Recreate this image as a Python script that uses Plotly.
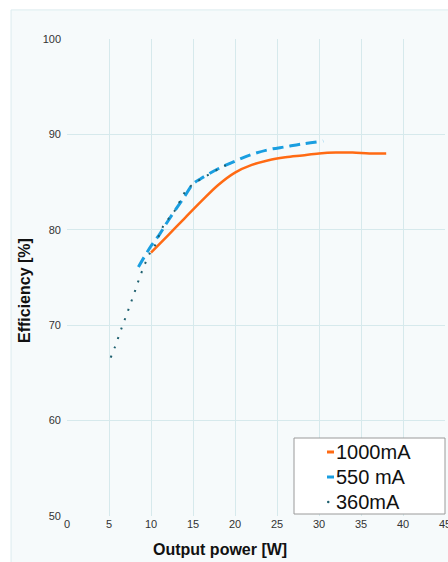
import plotly.graph_objects as go

# 1000 mA (solid orange)
x_1000 = [10, 12, 14, 16, 18, 20, 22, 24, 26, 28, 30, 32, 34, 36, 38]
y_1000 = [77.6, 79.4, 81.2, 83.0, 84.7, 86.0, 86.8, 87.3, 87.6, 87.8, 88.0, 88.1, 88.1, 88.0, 88.0]

# 550 mA (dashed blue)
x_550 = [8.5, 10, 11, 12, 14, 15, 16, 18, 20, 22, 24, 26, 28, 30.5]
y_550 = [76.1, 78.3, 79.5, 80.9, 83.5, 84.8, 85.4, 86.4, 87.2, 87.9, 88.4, 88.7, 89.0, 89.3]

# 360 mA (dotted dark teal)
x_360 = [5.2, 5.7, 6.5, 7.3, 8.1, 8.9, 9.9, 10.5, 11.4, 12.9, 14.0, 14.9, 16.5, 17.9, 19.4]
y_360 = [66.6, 67.7, 69.7, 71.6, 73.6, 75.6, 77.6, 78.4, 80.3, 82.1, 83.9, 84.7, 85.6, 86.3, 87.0]

series_names = ["1000mA", "550 mA", "360mA"]
series_colors = ["#ff6a13", "#1a9ee0", "#1d5f6e"]

x_ticks = [0, 5, 10, 15, 20, 25, 30, 35, 40, 45]
y_ticks = [50, 60, 70, 80, 90, 100]

FONT = "Liberation Sans, Arial, sans-serif"

# plot area in pixels (for paper-coordinate helpers)
L, R, T, B = 67, 445, 39, 516
def px(x):
    return (x - L) / (R - L)
def py(y):
    return (B - y) / (B - T)

fig = go.Figure()
fig.add_trace(go.Scatter(x=x_1000, y=y_1000, mode="lines", name=series_names[0],
                         line=dict(color=series_colors[0], width=2.5, shape="spline")))
fig.add_trace(go.Scatter(x=x_550, y=y_550, mode="lines", name=series_names[1],
                         line=dict(color=series_colors[1], width=3, dash="11px,6px", shape="spline")))
fig.add_trace(go.Scatter(x=x_360, y=y_360, mode="lines", name=series_names[2],
                         line=dict(color=series_colors[2], width=2, dash="2px,8px", shape="spline")))

shapes = [
    dict(type="rect", xref="paper", yref="paper", x0=-0.148, x1=1.02,
         y0=-0.11, y1=1.061, fillcolor="#f6fafb",
         line=dict(color="#dcecef", width=1), layer="below"),
    # legend box
    dict(type="rect", xref="paper", yref="paper", x0=px(294), x1=px(445),
         y0=py(514), y1=py(438), fillcolor="white",
         line=dict(color="#9a9a9a", width=1), layer="above"),
    # legend symbols
    dict(type="line", xref="paper", yref="paper", x0=px(327), x1=px(334),
         y0=py(452), y1=py(452), line=dict(color=series_colors[0], width=3)),
    dict(type="line", xref="paper", yref="paper", x0=px(327), x1=px(334),
         y0=py(477), y1=py(477), line=dict(color=series_colors[1], width=3)),
    dict(type="circle", xref="paper", yref="paper", x0=px(327), x1=px(329.5),
         y0=py(503.2), y1=py(500.8), fillcolor=series_colors[2],
         line=dict(color=series_colors[2], width=0)),
]

annotations = [
    dict(text="<b>Output power [W]</b>", xref="paper", yref="paper",
         x=px(220), y=py(549), xanchor="center", yanchor="middle",
         showarrow=False, font=dict(size=16, color="#111111", family=FONT)),
    dict(text="<b>Efficiency [%]</b>", xref="paper", yref="paper",
         x=px(24), y=py(291), xanchor="center", yanchor="middle",
         textangle=-90, showarrow=False, font=dict(size=16, color="#111111", family=FONT)),
]
for name, ypix in zip(series_names, [452, 477, 502]):
    annotations.append(dict(text=name, xref="paper", yref="paper", x=px(334), y=py(ypix),
                            xanchor="left", yanchor="middle", showarrow=False,
                            font=dict(size=20, color="#111111", family=FONT)))

fig.update_layout(
    width=448, height=562,
    margin=dict(l=L, r=448 - R, t=T, b=562 - B, autoexpand=False),
    paper_bgcolor="white",
    plot_bgcolor="rgba(0,0,0,0)",
    font=dict(family=FONT, color="#333333", size=11),
    showlegend=False,
    xaxis=dict(range=[0, 45], tickvals=x_ticks, showgrid=True, gridcolor="#d6e9ec",
               gridwidth=1, zeroline=False, showline=False, ticks="",
               ticklabeloverflow="allow", automargin=False,
               tickfont=dict(size=11, color="#333333")),
    yaxis=dict(range=[50, 100], tickvals=y_ticks, showgrid=True, gridcolor="#d6e9ec",
               gridwidth=1, zeroline=False, showline=False, ticks="",
               ticklabeloverflow="allow", automargin=False,
               tickfont=dict(size=11, color="#333333"), ticklabelstandoff=5),
    shapes=shapes,
    annotations=annotations,
)

fig.write_html("out.html", config={"displayModeBar": False},
               post_script="document.body.style.margin='0';document.body.style.overflow='hidden';")
